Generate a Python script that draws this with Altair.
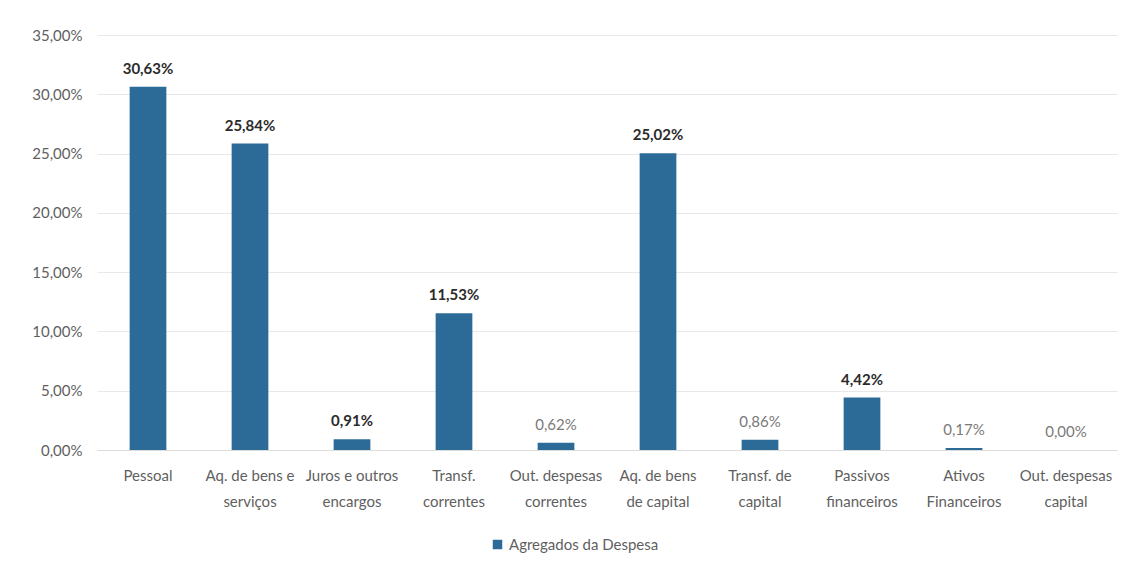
import altair as alt
import pandas as pd

categorias = [
    "Pessoal",
    "Aq. de bens e|serviços",
    "Juros e outros|encargos",
    "Transf.|correntes",
    "Out. despesas|correntes",
    "Aq. de bens|de capital",
    "Transf. de|capital",
    "Passivos|financeiros",
    "Ativos|Financeiros",
    "Out. despesas|capital",
]
valores = [30.63, 25.84, 0.91, 11.53, 0.62, 25.02, 0.86, 4.42, 0.17, 0.00]
ticks_y = [0, 0.05, 0.10, 0.15, 0.20, 0.25, 0.30, 0.35]
serie = "Agregados da Despesa"
destaque = ["Pessoal", "Aq. de bens e|serviços", "Juros e outros|encargos",
            "Transf.|correntes", "Aq. de bens|de capital", "Passivos|financeiros"]

df = pd.DataFrame({"categoria": categorias, "valor": [v / 100 for v in valores], "serie": serie})

FONT = "Lato"
cor = "#2C6B97"
cinza = "#5f5f5f"

base = alt.Chart(df).transform_calculate(
    rotulo="replace(format(datum.valor, '.2%'), '.', ',')"
)

x = alt.X("categoria:N", sort=categorias, title=None,
          scale=alt.Scale(paddingInner=0.64, paddingOuter=0.32),
          axis=alt.Axis(labelAngle=0, labelExpr="split(datum.label, '|')",
                        labelFontSize=15, labelColor=cinza, labelFont=FONT,
                        labelPadding=18, ticks=False, domainColor="#dcdcdc",
                        labelLineHeight=26))

barras = base.mark_bar(color=cor).encode(
    x=x,
    y=alt.Y("valor:Q", title=None,
            scale=alt.Scale(domain=[0, 0.35], nice=False),
            axis=alt.Axis(values=ticks_y,
                          labelExpr="replace(format(datum.value, '.2%'), '.', ',')",
                          labelFontSize=15, labelColor=cinza, labelFont=FONT,
                          labelPadding=15, ticks=False, domain=False,
                          gridColor="#e8e8e8")),
    fill=alt.Fill("serie:N", scale=alt.Scale(range=[cor]),
                  legend=alt.Legend(title=None, orient="none", legendX=393, legendY=502,
                                    symbolType="square", symbolSize=90, symbolOffset=0,
                                    labelFontSize=15, labelColor=cinza, labelFont=FONT)),
)

pred = alt.FieldOneOfPredicate(field="categoria", oneOf=destaque)

rotulos_fortes = base.transform_filter(pred).mark_text(
    baseline="bottom", dy=-10, fontSize=15, font=FONT, fontWeight="bold", color="#2b2b2b"
).encode(
    x=alt.X("categoria:N", sort=categorias),
    y="valor:Q",
    text="rotulo:N",
)

rotulos_leves = base.transform_filter(~pred).mark_text(
    baseline="bottom", dy=-10, fontSize=15, font=FONT, color="#7a7a7a"
).encode(
    x=alt.X("categoria:N", sort=categorias),
    y="valor:Q",
    text="rotulo:N",
)

chart = (barras + rotulos_fortes + rotulos_leves).properties(
    width=1020, height=415,
    autosize=alt.AutoSizeParams(type="none"),
    padding={"left": 97, "top": 35, "right": 6, "bottom": 121},
    background="white",
).configure_view(stroke=None, strokeWidth=0)

chart.save("out.html", embed_options={"renderer": "svg", "actions": False})
